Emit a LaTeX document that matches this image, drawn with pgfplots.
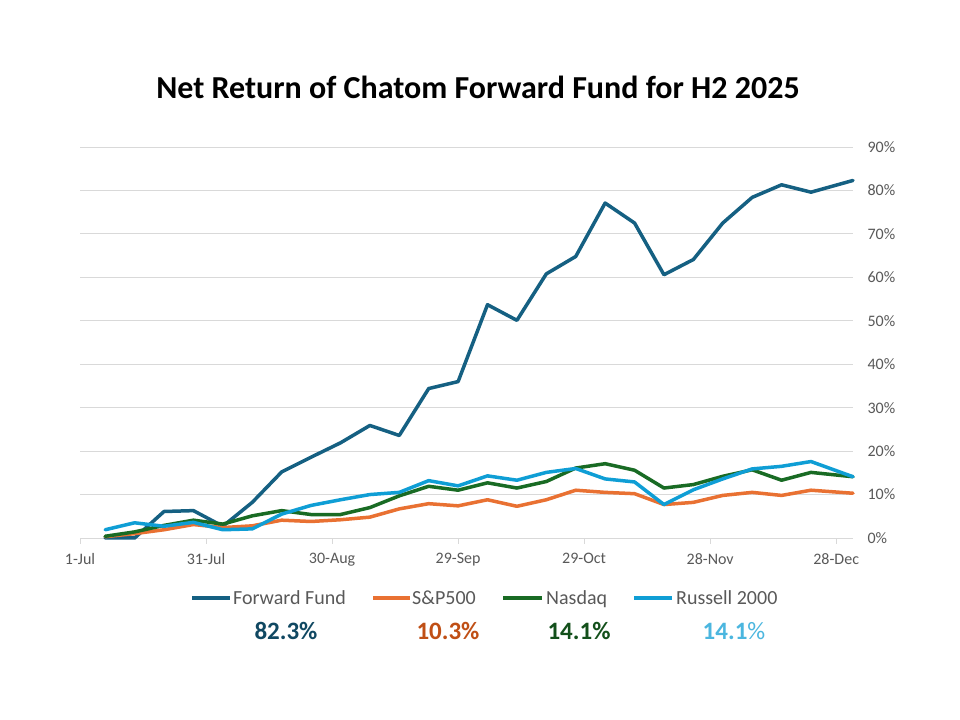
\documentclass[border=0pt]{standalone}
\usepackage{pgfplots}
\pgfplotsset{compat=1.18}
\usepackage{pgfplotstable}
\usepackage{fontspec}
\setmainfont{Carlito}

\definecolor{ffund}{HTML}{156082}
\definecolor{spx}{HTML}{E97132}
\definecolor{nasdaq}{HTML}{196B24}
\definecolor{russell}{HTML}{0F9ED5}
\definecolor{vff}{HTML}{104862}
\definecolor{vspx}{HTML}{C04F15}
\definecolor{vnas}{HTML}{13501B}
\definecolor{vrus}{HTML}{4BB6DF}
\definecolor{gridgrey}{HTML}{D9D9D9}
\definecolor{labgrey}{HTML}{595959}

% day = days after 1-Jul-2025, values in percent
\pgfplotstableread{
day ff   sp   nas  rus
6   0.0  0.3  0.4  1.9
13  0.0  1.0  1.4  3.5
20  6.1  1.9  2.9  2.7
27  6.3  3.1  4.1  3.6
34  2.7  2.4  3.2  1.9
41  8.2  2.8  5.1  2.1
48  15.2 4.1  6.3  5.5
55  18.6 3.8  5.4  7.5
62  21.9 4.2  5.4  8.8
69  25.9 4.8  7.0  10.0
76  23.6 6.7  9.7  10.5
83  34.4 7.9  11.9 13.2
90  36.0 7.4  11.0 12.0
97  53.7 8.8  12.7 14.3
104 50.1 7.3  11.5 13.3
111 60.8 8.8  13.0 15.1
118 64.8 11.0 16.1 16.0
125 77.1 10.5 17.1 13.6
132 72.5 10.2 15.6 12.9
139 60.6 7.7  11.5 7.7
146 64.1 8.2  12.3 11.1
153 72.5 9.8  14.2 13.6
160 78.4 10.5 15.7 15.9
167 81.3 9.8  13.3 16.5
174 79.6 11.0 15.1 17.6
184 82.3 10.3 14.1 14.1
}\returns

\begin{document}
\begin{tikzpicture}
\path[fill=white] (0,0) rectangle (960bp,720bp);

\begin{axis}[
at={(80bp,182bp)}, anchor=south west,
scale only axis, width=773bp, height=391bp,
xmin=0, xmax=184, ymin=0, ymax=90,
clip=false,
axis x line*=bottom, axis y line*=right,
x axis line style={draw=gridgrey, line width=0.8bp, -},
y axis line style={draw=none},
ymajorgrids, grid style={draw=gridgrey, line width=0.8bp},
xtick={0,30,60,90,120,150,180},
xticklabels={1-Jul,31-Jul,30-Aug,29-Sep,29-Oct,28-Nov,28-Dec},
ytick={0,10,...,90},
yticklabel={\pgfmathprintnumber{\tick}\%},
tick align=outside, major tick length=6bp,
xtick style={draw=gridgrey, line width=0.8bp},
ytick style={draw=none},
ticklabel style={font=\fontsize{16bp}{18bp}\selectfont, text=labgrey},
/pgf/number format/assume math mode=true,
xticklabel style={yshift=-6bp},
yticklabel style={anchor=west, xshift=5bp},
every axis plot/.append style={line width=3.5bp, line join=round, line cap=round, mark=none},
]
\addplot[ffund] table[x=day, y=ff] {\returns};
\addplot[spx] table[x=day, y=sp] {\returns};
\addplot[nasdaq] table[x=day, y=nas] {\returns};
\addplot[russell] table[x=day, y=rus] {\returns};
\end{axis}

\node[anchor=base, font=\fontsize{32bp}{36bp}\selectfont\bfseries] at (478bp,621bp)
  {Net Return of Chatom Forward Fund for H2 2025};

% legend
\begin{scope}[every node/.style={anchor=base west, inner sep=0pt, text=labgrey,
    font=\fontsize{20bp}{22bp}\selectfont}]
\draw[ffund, line width=3.5bp] (192bp,122bp) -- (230bp,122bp);
\node at (233bp,115bp) {Forward Fund};
\draw[spx, line width=3.5bp] (373bp,122bp) -- (410bp,122bp);
\node at (412bp,115bp) {S\&P500};
\draw[nasdaq, line width=3.5bp] (503bp,122bp) -- (542bp,122bp);
\node at (546bp,115bp) {Nasdaq};
\draw[russell, line width=3.5bp] (634bp,122bp) -- (672bp,122bp);
\node at (676bp,115bp) {Russell 2000};
\end{scope}

% final values
\begin{scope}[every node/.style={anchor=base, inner sep=0pt,
    font=\fontsize{25bp}{28bp}\selectfont\bfseries}]
\node[text=vff] at (286bp,80bp) {82.3\%};
\node[text=vspx] at (448bp,80bp) {10.3\%};
\node[text=vnas] at (579bp,80bp) {14.1\%};
\node[text=vrus] at (734bp,80bp) {14.1{\mdseries\%}};
\end{scope}
\end{tikzpicture}
\end{document}
